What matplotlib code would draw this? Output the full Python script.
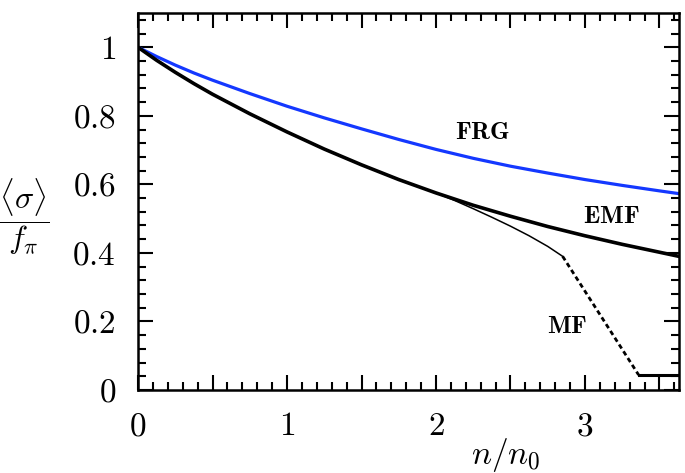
import matplotlib
matplotlib.use("Agg")
import matplotlib.pyplot as plt
from matplotlib.ticker import MultipleLocator, FuncFormatter

# Data
n_frg = [0, 0.125, 0.25, 0.375, 0.5, 0.75, 1.0, 1.25, 1.5, 1.75, 2.0, 2.25, 2.5, 2.75, 3.0, 3.25, 3.5, 3.63]
s_frg = [1.0, 0.973, 0.948, 0.925, 0.904, 0.865, 0.828, 0.794, 0.762, 0.731, 0.702, 0.676, 0.653, 0.633, 0.614, 0.597, 0.581, 0.573]

n_emf = [0, 0.125, 0.25, 0.375, 0.5, 0.75, 1.0, 1.25, 1.5, 1.75, 2.0, 2.25, 2.5, 2.75, 3.0, 3.25, 3.5, 3.63]
s_emf = [1.0, 0.962, 0.927, 0.894, 0.863, 0.806, 0.753, 0.703, 0.657, 0.614, 0.575, 0.539, 0.507, 0.477, 0.450, 0.425, 0.402, 0.390]

n_mf = [0, 0.125, 0.25, 0.375, 0.5, 0.75, 1.0, 1.25, 1.5, 1.75, 2.0, 2.125, 2.25, 2.375, 2.5, 2.625, 2.75, 2.85]
s_mf = [1.0, 0.962, 0.927, 0.894, 0.863, 0.806, 0.753, 0.703, 0.657, 0.614, 0.575, 0.553, 0.529, 0.504, 0.478, 0.450, 0.419, 0.390]

n_mf_dash = [2.85, 3.36]
s_mf_dash = [0.390, 0.044]

n_mf_flat = [3.36, 3.63]
s_mf_flat = [0.044, 0.044]

plt.rcParams['mathtext.fontset'] = 'cm'
plt.rcParams['font.family'] = 'serif'
plt.rcParams['font.serif'] = ['cmr10', 'DejaVu Serif']

fig = plt.figure(figsize=(6.85, 4.73), dpi=100)
ax = fig.add_axes([0.2015, 0.1755, 0.7895, 0.797])

ax.plot(n_frg, s_frg, color='#1438ff', lw=2.3)
ax.plot(n_emf, s_emf, color='black', lw=2.6)
ax.plot(n_mf, s_mf, color='black', lw=1.1)
ax.plot(n_mf_dash, s_mf_dash, color='black', lw=2.0, ls=(0, (1.7, 1.2)))
ax.plot(n_mf_flat, s_mf_flat, color='black', lw=2.2)

ax.text(2.315, 0.749, r'$\mathbf{FRG}$', fontsize=18, ha='center', va='center')
ax.text(3.18, 0.504, r'$\mathbf{EMF}$', fontsize=18, ha='center', va='center')
ax.text(2.88, 0.184, r'$\mathbf{MF}$', fontsize=18, ha='center', va='center')

ax.set_xlim(0, 3.63)
ax.set_ylim(0, 1.1)

ax.xaxis.set_major_locator(MultipleLocator(0.5))
ax.xaxis.set_minor_locator(MultipleLocator(0.1))
ax.yaxis.set_major_locator(MultipleLocator(0.2))
ax.yaxis.set_minor_locator(MultipleLocator(0.04))
ax.xaxis.set_major_formatter(FuncFormatter(lambda v, p: '$%d$' % round(v) if abs(v - round(v)) < 1e-6 else ''))
ax.yaxis.set_major_formatter(FuncFormatter(lambda v, p: '$%g$' % round(v, 2)))

ax.tick_params(which='both', direction='in', top=True, right=True, width=1.5, labelsize=24)
ax.tick_params(which='major', length=10.5, pad=16)
ax.tick_params(which='minor', length=5.5)
for s in ax.spines.values():
    s.set_linewidth(1.8)

ax.text(0.68, -0.172, r'$n/n_0$', transform=ax.transAxes, fontsize=24, ha='center', va='center')
ax.text(-0.21, 0.459, r'$\dfrac{\langle\sigma\rangle}{f_\pi}$', transform=ax.transAxes, fontsize=23, ha='center', va='center')

fig.savefig('out.png', dpi=100)
